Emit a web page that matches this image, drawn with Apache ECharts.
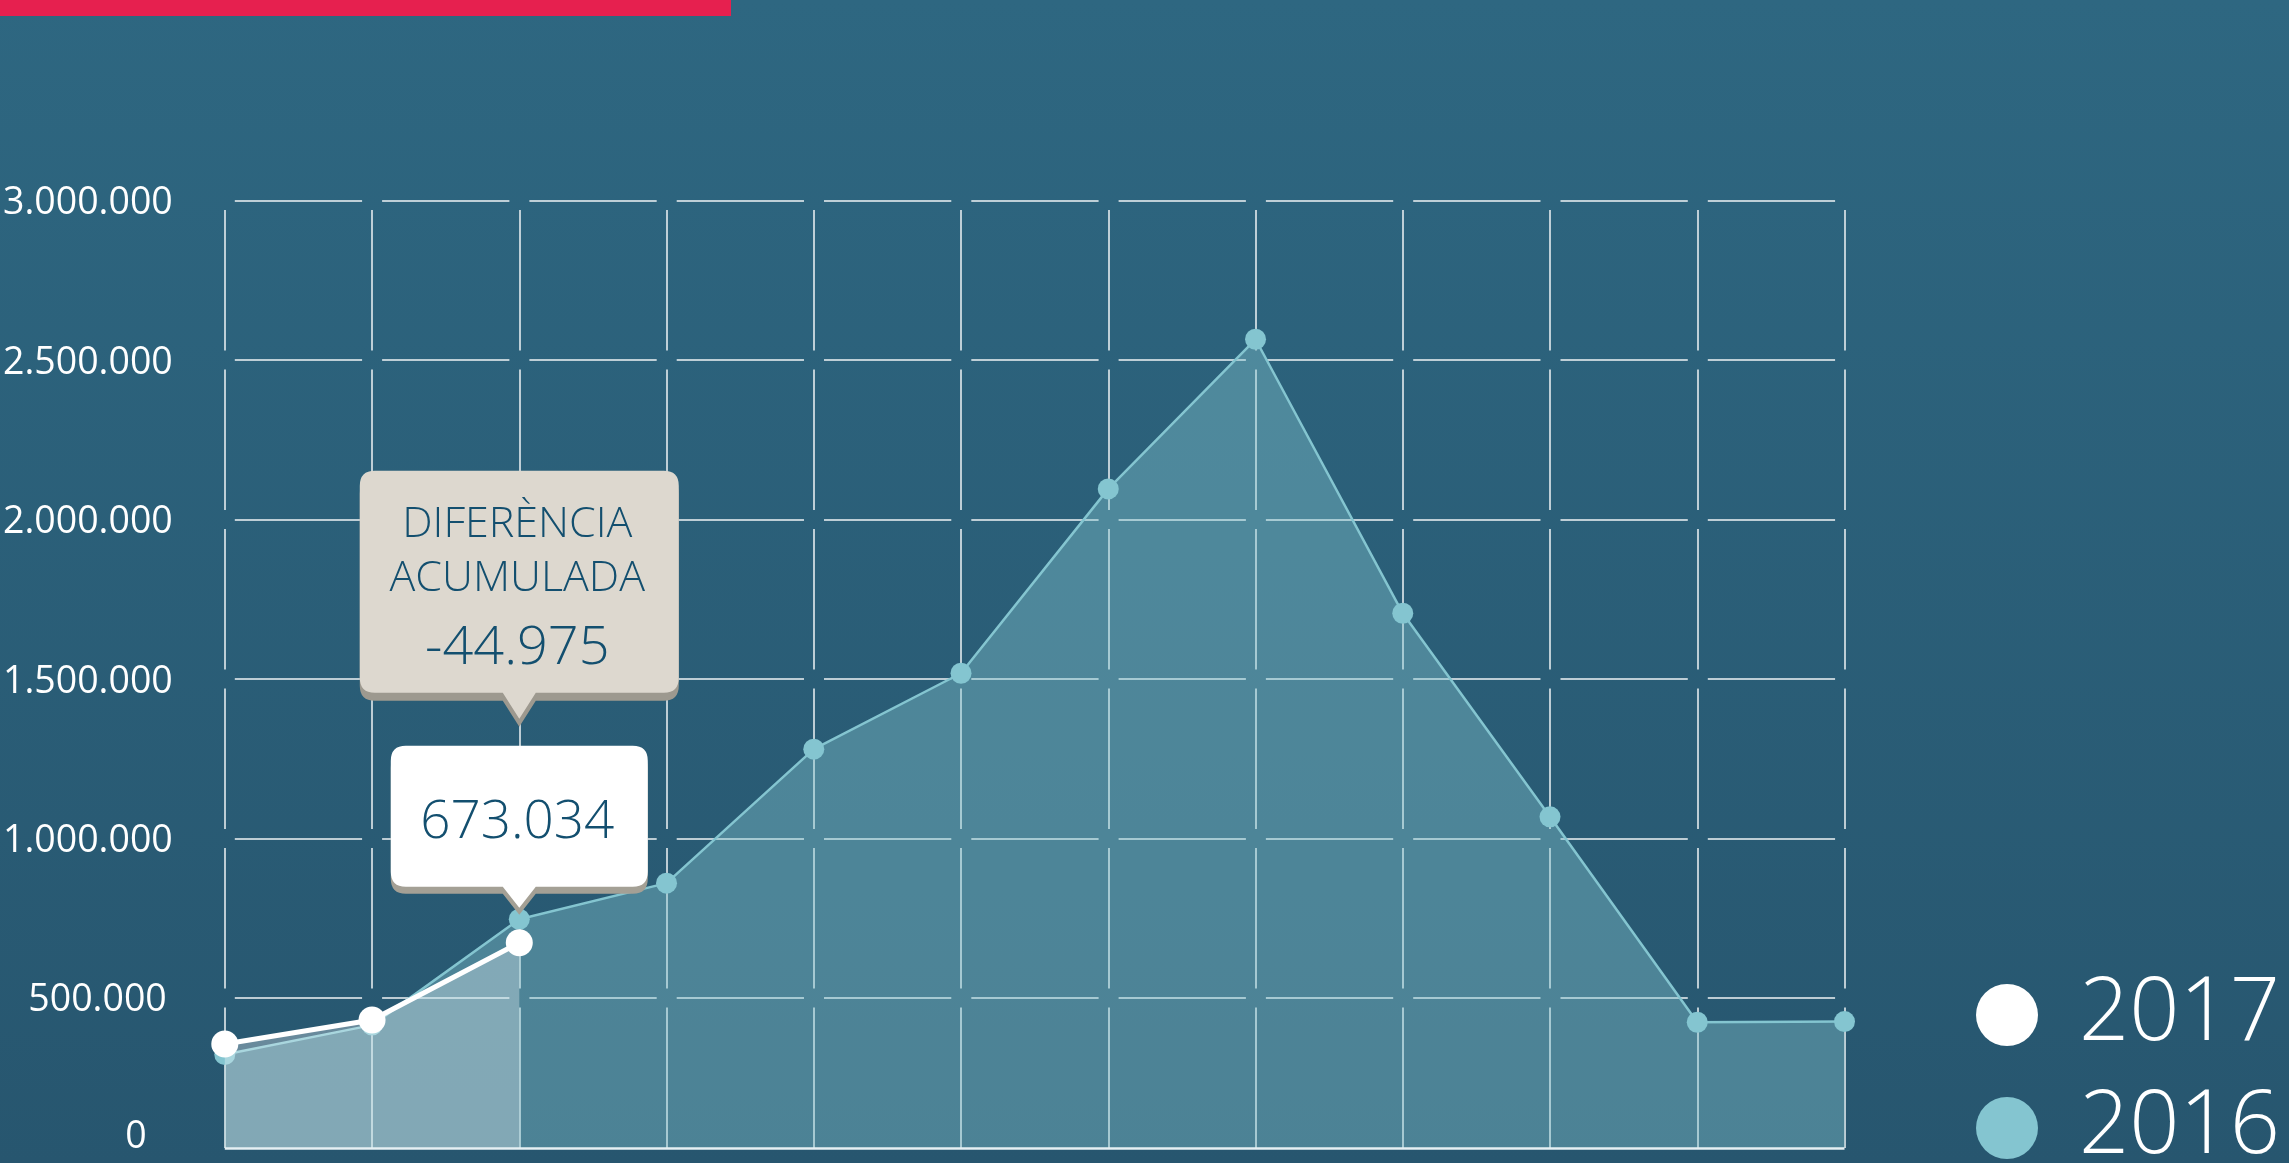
<!DOCTYPE html>
<html>
<head>
<meta charset="utf-8">
<script src="https://cdn.jsdelivr.net/npm/echarts@6/dist/echarts.min.js"></script>
<style>
html,body{margin:0;padding:0;width:2289px;height:1163px;overflow:hidden;background:linear-gradient(#2e6781,#27566f);}
#c{width:2289px;height:1163px;}
</style>
</head>
<body>
<div id="c"></div>
<script>
// ---- data ----
const MONTHS = ['Gen','Feb','Mar','Abr','Mai','Jun','Jul','Ago','Set','Oct','Nov','Des'];
const V2016 = [323000, 415000, 747000, 860000, 1280000, 1518000, 2096000, 2565000, 1706000, 1068000, 424000, 426000];
const V2017 = [356000, 431000, 673034];
const SERIES_NAMES = ['2017', '2016'];
const Y_MIN = 0, Y_MAX = 3000000, Y_STEP = 500000;
const DIFF_LABEL = ['DIFERÈNCIA', 'ACUMULADA'];
const DIFF_VALUE = -44975;
const BASELINE_VALUE = 30000;

function fmt(v){ return String(v).replace(/\B(?=(\d{3})+(?!\d))/g, '.'); }

const C2016 = '#84c5d0';
const C2017 = '#ffffff';
const TXT = '#134f6f';
const FONT = 'Open Sans';

const lastIdx = V2017.length - 1;
const lastVal = V2017[lastIdx];

const beigePath = 'path://M15,0 H304 Q319,0 319,15 V207 Q319,222 304,222 H176 L159.5,248 L143,222 H15 Q0,222 0,207 V15 Q0,0 15,0 Z';
const whitePath = 'path://M15,0 H242 Q257,0 257,15 V126 Q257,141 242,141 H145 L128.5,162 L112,141 H15 Q0,141 0,126 V15 Q0,0 15,0 Z';

const lbl = {color: '#fff', fontSize: 37.5, fontFamily: FONT};

const chart = echarts.init(document.getElementById('c'), null, {renderer:'canvas'});
chart.setOption({
  backgroundColor: 'transparent',
  animation: false,
  graphic: [{
    type: 'rect', left: 0, top: 0, z: 10,
    shape: {width: 731, height: 16},
    style: {fill: '#e6204f'}
  }],
  grid: {left: 222.5, right: 444.5, top: 200.5, bottom: 5.5, containLabel: false},
  legend: {
    data: SERIES_NAMES,
    orient: 'vertical',
    left: 1976, top: 971, height: 400,
    padding: 0,
    icon: 'circle',
    itemWidth: 62, itemHeight: 62, itemGap: 25,
    selectedMode: false,
    itemStyle: {borderWidth: 0},
    textStyle: {color: '#fff', fontSize: 88, fontWeight: 300, fontFamily: FONT, padding: [0,0,0,36]}
  },
  xAxis: {
    type: 'category', data: MONTHS, boundaryGap: false,
    axisLine: {show: false}, axisTick: {show: false}, axisLabel: {show: false},
    splitLine: {show: true, lineStyle: {color: 'rgba(255,255,255,0.92)', width: 1.5, type: [140.5, 19], dashOffset: 150}}
  },
  yAxis: {
    type: 'value', min: Y_MIN, max: Y_MAX, interval: Y_STEP,
    axisLine: {show: false}, axisTick: {show: false},
    axisLabel: {
      color: '#fff', fontSize: 37.5, fontFamily: FONT, margin: 52,
      formatter: function(v){
        if (v === 0) return '{z|' + fmt(v) + '}';
        if (v < 1000000) return '{h|' + fmt(v) + '}';
        return '{m|' + fmt(v) + '}';
      },
      rich: {
        m: Object.assign({padding: [6, 0, 0, 0]}, lbl),
        h: Object.assign({padding: [4, 6, 0, 0]}, lbl),
        z: Object.assign({padding: [0, 26, 40, 0]}, lbl)
      }
    },
    splitLine: {show: true, showMinLine: false, lineStyle: {color: 'rgba(255,255,255,0.92)', width: 1.5, type: [127.3, 20], dashOffset: 137.3}}
  },
  series: [
    {
      name: '2016', type: 'line', data: V2016,
      symbol: 'circle', symbolSize: 21, showSymbol: true,
      itemStyle: {color: C2016, borderWidth: 0},
      lineStyle: {color: C2016, width: 2.5},
      areaStyle: {color: 'rgba(132,197,208,0.4)', opacity: 1, origin: BASELINE_VALUE},
      emphasis: {disabled: true},
      z: 2,
      markLine: {
        silent: true, symbol: 'none', animation: false,
        label: {show: false},
        lineStyle: {color: '#e6f0f3', width: 2.5, type: 'solid'},
        emphasis: {disabled: true},
        data: [{yAxis: BASELINE_VALUE}]
      }
    },
    {
      name: '2017', type: 'line', data: V2017,
      symbol: 'circle', symbolSize: 27, showSymbol: true,
      itemStyle: {color: C2017, borderWidth: 0},
      lineStyle: {color: C2017, width: 5},
      areaStyle: {color: 'rgba(255,255,255,0.3)', opacity: 1, origin: BASELINE_VALUE},
      emphasis: {disabled: true},
      z: 3,
      markPoint: {
        silent: true, animation: false,
        emphasis: {disabled: true},
        data: [
          {
            coord: [lastIdx, lastVal],
            symbol: beigePath, symbolSize: [319, 248], symbolOffset: [0, -348],
            itemStyle: {color: '#ddd8cf', shadowColor: '#9d998f', shadowOffsetY: 8, shadowBlur: 0},
            label: {
              show: true, position: 'inside', offset: [-2, -1],
              formatter: '{a|' + DIFF_LABEL[0] + '}\n{a|' + DIFF_LABEL[1] + '}\n{b|' + fmt(DIFF_VALUE) + '}',
              rich: {
                a: {color: TXT, fontSize: 43, fontWeight: 300, fontFamily: FONT, lineHeight: 54.5, align: 'center'},
                b: {color: TXT, fontSize: 54, fontWeight: 300, fontFamily: FONT, lineHeight: 84.5, align: 'center'}
              }
            }
          },
          {
            coord: [lastIdx, lastVal],
            symbol: whitePath, symbolSize: [257, 162], symbolOffset: [0, -116],
            itemStyle: {color: '#ffffff', shadowColor: '#a4a095', shadowOffsetY: 7, shadowBlur: 0},
            label: {
              show: true, position: 'inside', offset: [-2, -4],
              formatter: fmt(lastVal),
              color: TXT, fontSize: 53, fontWeight: 300, fontFamily: FONT,
              textBorderWidth: 0
            }
          }
        ]
      }
    }
  ]
});
</script>
</body>
</html>
